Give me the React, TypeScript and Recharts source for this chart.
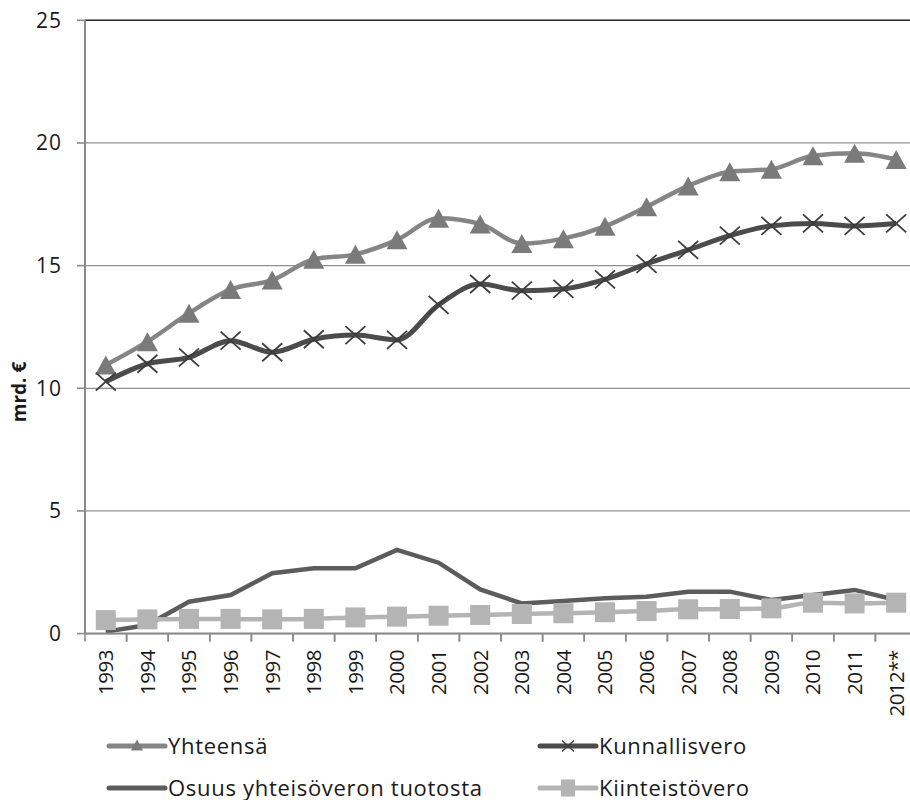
import React from 'react';
import { LineChart, Line, XAxis, YAxis, CartesianGrid, ReferenceLine } from 'recharts';

const years = ['1993', '1994', '1995', '1996', '1997', '1998', '1999', '2000', '2001', '2002',
  '2003', '2004', '2005', '2006', '2007', '2008', '2009', '2010', '2011', '2012**'];

const yhteensa = [10.95, 11.9, 13.06, 14.03, 14.41, 15.26, 15.46, 16.05, 16.93, 16.7,
  15.9, 16.1, 16.6, 17.4, 18.25, 18.83, 18.93, 19.48, 19.58, 19.33];
const kunnallisvero = [10.27, 11.0, 11.26, 11.94, 11.47, 12.0, 12.17, 11.97, 13.4, 14.25,
  13.98, 14.05, 14.44, 15.07, 15.64, 16.22, 16.62, 16.72, 16.62, 16.72];
const osuus = [0.08, 0.35, 1.3, 1.57, 2.46, 2.66, 2.66, 3.41, 2.89, 1.8,
  1.23, 1.33, 1.44, 1.5, 1.71, 1.71, 1.37, 1.57, 1.78, 1.37];
const kiinteisto = [0.55, 0.58, 0.6, 0.6, 0.58, 0.6, 0.66, 0.69, 0.73, 0.76,
  0.8, 0.83, 0.87, 0.92, 0.99, 1.0, 1.03, 1.26, 1.23, 1.26];

const yTicks = [0, 5, 10, 15, 20, 25];

const data = years.map((y, i) => ({
  year: y,
  yhteensa: yhteensa[i],
  kunnallisvero: kunnallisvero[i],
  osuus: osuus[i],
  kiinteisto: kiinteisto[i],
}));

const FONT = '"Open Sans", sans-serif';
const TEXT = '#1a1a1a';
const C_YHT = '#858585';
const C_YHT_M = '#7a7a7a';
const C_KUN = '#4b4b4b';
const C_KUN_M = '#3c3c3c';
const C_OSU = '#5c5c5c';
const C_KII = '#b4b4b4';
const AXIS = '#8a8a8a';

// plot geometry (the reference's plot runs a little past the right edge)
const CHART_W = 920;
const PLOT_LEFT = 85;
const PLOT_RIGHT = 917;
const BAND = (PLOT_RIGHT - PLOT_LEFT) / years.length;

const Triangle = ({ cx, cy, w = 21, h = 19, fill }: any) => (
  <path d={`M${cx},${cy - h / 2}L${cx + w / 2},${cy + h / 2}L${cx - w / 2},${cy + h / 2}Z`} fill={fill} />
);
const Cross = ({ cx, cy, s = 10, stroke, sw = 1.8 }: any) => (
  <path d={`M${cx - s},${cy - s * 0.9}L${cx + s},${cy + s * 0.9}M${cx - s},${cy + s * 0.9}L${cx + s},${cy - s * 0.9}`}
    stroke={stroke} strokeWidth={sw} fill="none" />
);
const Square = ({ cx, cy, w = 20, h = 20, fill }: any) => (
  <rect x={cx - w / 2} y={cy - h / 2} width={w} height={h} fill={fill} />
);

const XTick = ({ x, y, payload }: any) => (
  <g transform={`translate(${x},${y})`}>
    <line x1={-BAND / 2} x2={-BAND / 2} y1={-8} y2={0} stroke={AXIS} strokeWidth={1.6} />
    <line x1={BAND / 2} x2={BAND / 2} y1={-8} y2={0} stroke={AXIS} strokeWidth={1.6} />
    <text transform="rotate(-90)" x={-8.5} y={0} dy="0.36em" textAnchor="end"
      fontFamily={FONT} fontSize={20.5} fill={TEXT} letterSpacing={-0.5}>{payload.value}</text>
  </g>
);

const YLabel = () => (
  <text transform="translate(19,392) rotate(-90)" textAnchor="middle" dy="0.36em"
    fontFamily={FONT} fontSize={19} fontWeight={700} fill={TEXT}>mrd. €</text>
);

const legendItems = [
  { label: 'Yhteensä', color: C_YHT, marker: 'tri', x: 109, y: 746 },
  { label: 'Kunnallisvero', color: C_KUN, marker: 'cross', x: 540, y: 746 },
  { label: 'Osuus yhteisöveron tuotosta', color: C_OSU, marker: 'none', x: 109, y: 788 },
  { label: 'Kiinteistövero', color: C_KII, marker: 'sq', x: 540, y: 788 },
];

export default function App() {
  return (
    <div style={{ position: 'absolute', left: 0, top: 0, width: 910, height: 800, overflow: 'hidden', background: '#fff' }}>
      <LineChart width={CHART_W} height={800} data={data}
        margin={{ top: 20.3, right: CHART_W - PLOT_RIGHT, bottom: 106.4, left: 0 }}>
        <CartesianGrid horizontal vertical={false} stroke="#8f8f8f" strokeWidth={1.3} />
        <ReferenceLine y={25} stroke="#2e2e2e" strokeWidth={1.6} />
        <XAxis dataKey="year" height={60} tickSize={8} tickMargin={0} tickLine={false}
          padding={{ left: BAND / 2, right: BAND / 2 }}
          axisLine={{ stroke: AXIS, strokeWidth: 2 }} interval={0} tick={<XTick />} />
        <YAxis domain={[0, 25]} ticks={yTicks} width={PLOT_LEFT} tickSize={8} tickMargin={15}
          axisLine={{ stroke: AXIS, strokeWidth: 2 }} tickLine={{ stroke: AXIS, strokeWidth: 1.6 }}
          tick={{ fontFamily: FONT, fontSize: 21, fill: TEXT, letterSpacing: 1 }}
          label={<YLabel />} />
        <Line type="monotone" dataKey="yhteensa" stroke={C_YHT} strokeWidth={4.5} isAnimationActive={false}
          dot={(p: any) => <Triangle key={`t${p.index}`} cx={p.cx} cy={p.cy} fill={C_YHT_M} />} />
        <Line type="monotone" dataKey="kunnallisvero" stroke={C_KUN} strokeWidth={5} isAnimationActive={false}
          dot={(p: any) => <Cross key={`c${p.index}`} cx={p.cx} cy={p.cy} stroke={C_KUN_M} />} />
        <Line type="linear" dataKey="osuus" stroke={C_OSU} strokeWidth={4.5} dot={false} isAnimationActive={false} />
        <Line type="monotone" dataKey="kiinteisto" stroke={C_KII} strokeWidth={4.5} isAnimationActive={false}
          dot={(p: any) => <Square key={`s${p.index}`} cx={p.cx} cy={p.cy} fill={C_KII} />} />
      </LineChart>
      <svg width={910} height={800} style={{ position: 'absolute', left: 0, top: 0, pointerEvents: 'none' }}>
        {legendItems.map((it) => (
          <g key={it.label}>
            <line x1={it.x} x2={it.x + 56} y1={it.y} y2={it.y} stroke={it.color} strokeWidth={5} strokeLinecap="round" />
            {it.marker === 'tri' && <Triangle cx={it.x + 28} cy={it.y - 1} w={12} h={11} fill={C_YHT_M} />}
            {it.marker === 'cross' && <Cross cx={it.x + 28} cy={it.y} s={6} stroke={C_KUN_M} sw={1.4} />}
            {it.marker === 'sq' && <Square cx={it.x + 28} cy={it.y} w={14} h={17} fill={C_KII} />}
            <text x={it.x + 59} y={it.y} dy="0.36em" fontFamily={FONT} fontSize={22} letterSpacing={0.7}
              fill={TEXT}>{it.label}</text>
          </g>
        ))}
      </svg>
    </div>
  );
}
